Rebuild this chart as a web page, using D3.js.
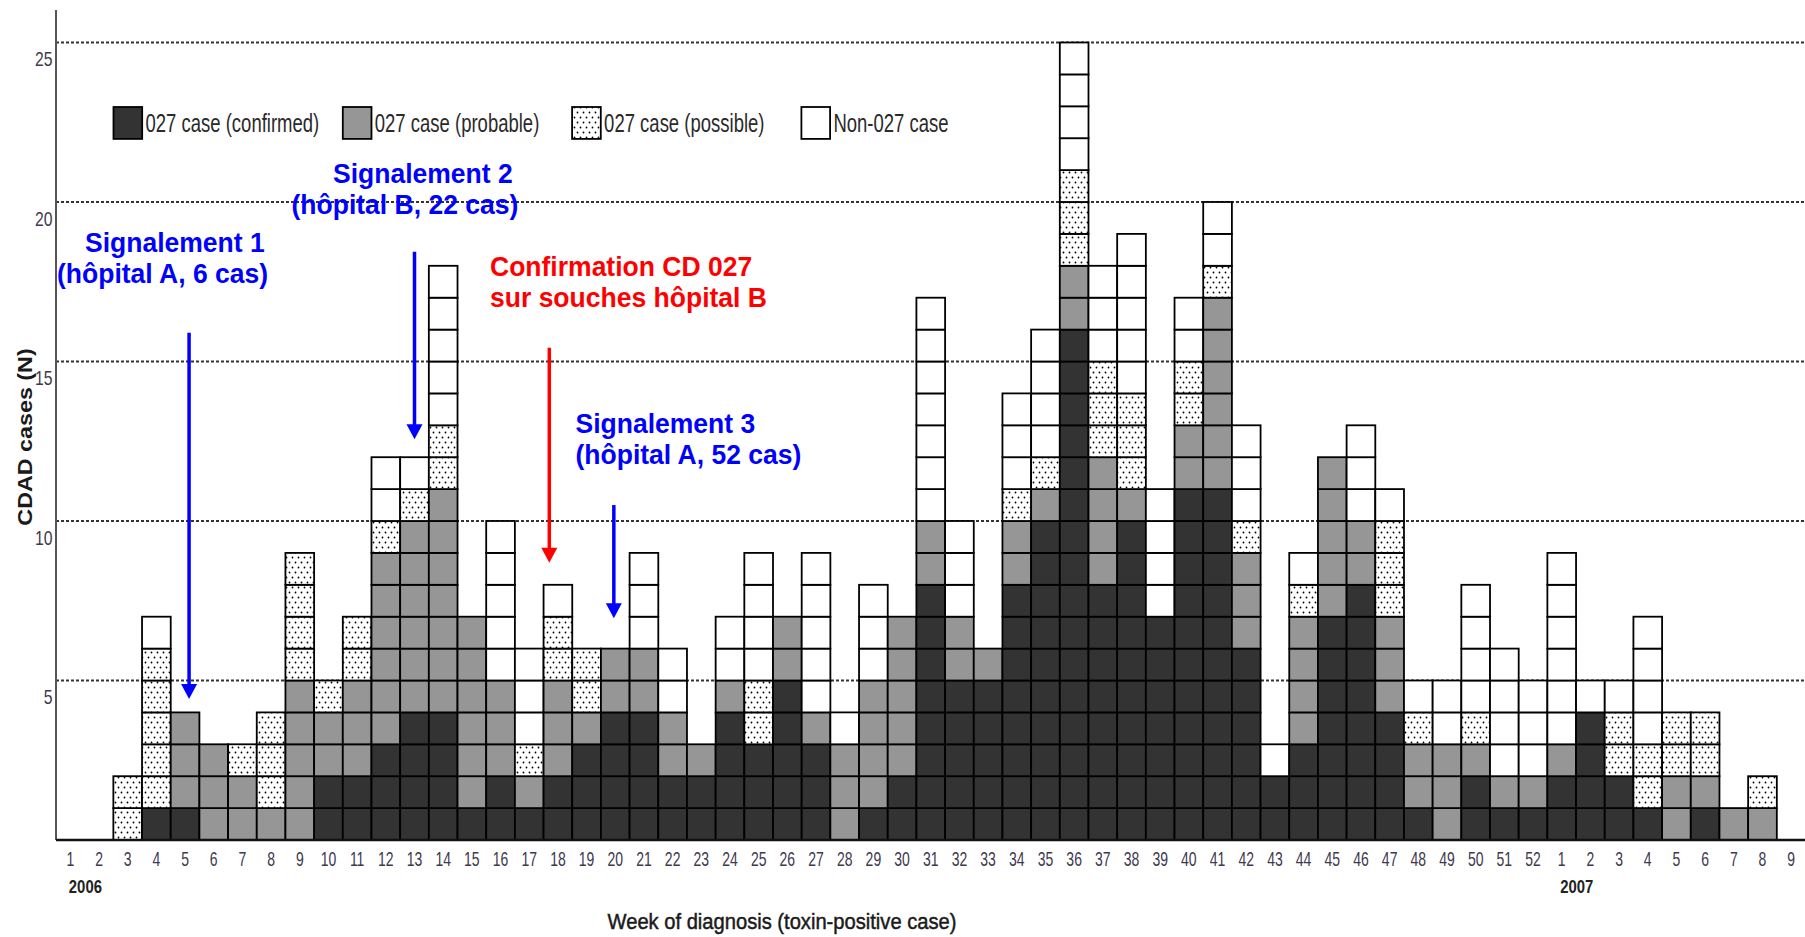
<!DOCTYPE html>
<html>
<head>
<meta charset="utf-8">
<script src="https://cdn.jsdelivr.net/npm/d3@7"></script>
<style>
  html, body { margin: 0; padding: 0; background: #fff; }
  svg { display: block; }
  text { font-family: "Liberation Sans", Arial, sans-serif; }
</style>
</head>
<body>
<svg id="chart" width="1805" height="937"></svg>
<script>
// Weekly CDAD cases, 2006 week 1 to 2007 week 9
const weekLabels = [...d3.range(1, 53), ...d3.range(1, 10)];
const yearLabels = [{ year: "2006", index: 0 }, { year: "2007", index: 52 }];

const confirmed = [0,0,0,1,1,0,0,0,0,2, 2,3,4,4,1,2,1,2,3,4, 4,2,2,4,3,5,3,0,1,2,
                   8,5,5,8,10,16,8,10,7,11, 11,6,2,3,7,8,4,1,0,2, 1,1,
                   2,4,2,1,0,1,0,0,0];
const probable  = [0,0,0,0,3,3,2,1,5,2, 3,6,6,7,6,3,1,3,1,2, 2,2,1,1,0,2,1,3,4,5,
                   2,2,1,2,1,2,4,1,0,2, 6,3,0,4,5,2,3,2,3,1, 1,1,
                   1,0,0,0,2,1,1,1,0];
const possible  = [0,0,2,5,0,0,1,3,4,1, 2,1,1,2,0,0,1,2,2,0, 0,0,0,0,2,0,0,0,0,0,
                   0,0,0,1,1,3,3,3,0,2, 1,1,0,1,0,0,3,1,0,1, 0,0,
                   0,0,2,2,2,2,0,1,0];
const nonCase   = [0,0,0,1,0,0,0,0,0,0, 0,2,1,5,0,5,3,1,0,0, 3,2,0,2,4,0,5,1,3,0,
                   7,3,0,3,4,4,3,5,4,2, 2,3,1,1,0,3,1,1,2,4, 4,3,
                   6,1,1,4,0,0,0,0,0];

const seriesNames = ["027 case (confirmed)", "027 case (probable)", "027 case (possible)", "Non-027 case"];
const seriesData = [confirmed, probable, possible, nonCase];
const yTicks = [5, 10, 15, 20, 25];

const svg = d3.select("#chart");
const W = 1805, H = 937;
const left = 56, right = 1805.5, baseY = 840, topY = 42.5;

const x = d3.scaleBand().domain(d3.range(weekLabels.length)).range([left, right]).padding(0);
const y = d3.scaleLinear().domain([0, 25]).range([baseY, topY]);
const fills = ["#333333", "#969696", "url(#dots)", "#ffffff"];

// dotted fill for "possible" cases
const defs = svg.append("defs");
const pat = defs.append("pattern").attr("id", "dots")
  .attr("patternUnits", "userSpaceOnUse").attr("width", 6).attr("height", 10);
pat.append("rect").attr("width", 6).attr("height", 10).attr("fill", "#fff");
pat.append("circle").attr("cx", 1.5).attr("cy", 2.5).attr("r", 0.9).attr("fill", "#000");
pat.append("circle").attr("cx", 4.5).attr("cy", 7.5).attr("r", 0.9).attr("fill", "#000");

// text helper with horizontal/vertical scale
function label(g, px, py, str, o = {}) {
  const t = g.append("text")
    .attr("transform", `translate(${px},${py}) scale(${o.sx || 1},${o.sy || 1})`)
    .attr("text-anchor", o.anchor || "start")
    .attr("font-size", o.size || 20)
    .attr("font-weight", o.weight || "normal")
    .attr("fill", o.fill || "#222")
    .text(str);
  if (o.stroke) t.attr("stroke", o.fill || "#222").attr("stroke-width", o.stroke);
  return t;
}

// horizontal dotted reference lines
svg.append("g").selectAll("line").data(yTicks).join("line")
  .attr("x1", left).attr("x2", W)
  .attr("y1", d => y(d)).attr("y2", d => y(d))
  .attr("stroke", "#333").attr("stroke-width", 2).attr("stroke-dasharray", "3,2");

// one square per case, stacked by category
const squares = [];
weekLabels.forEach((w, i) => {
  let level = 0;
  seriesData.forEach((arr, s) => {
    for (let k = 0; k < arr[i]; k++) {
      squares.push({ i, s, level });
      level++;
    }
  });
});
svg.append("g").selectAll("rect").data(squares).join("rect")
  .attr("x", d => x(d.i))
  .attr("y", d => y(d.level + 1))
  .attr("width", x.bandwidth())
  .attr("height", y(0) - y(1))
  .attr("fill", d => fills[d.s])
  .attr("stroke", "#000").attr("stroke-width", 1.8);

// axes lines
svg.append("line").attr("x1", left).attr("x2", left).attr("y1", 10).attr("y2", baseY)
  .attr("stroke", "#555").attr("stroke-width", 2);
svg.append("line").attr("x1", left).attr("x2", W).attr("y1", baseY).attr("y2", baseY)
  .attr("stroke", "#111").attr("stroke-width", 2.5);

// x axis: week numbers
const xAxis = svg.append("g").attr("transform", `translate(0,${baseY})`)
  .call(d3.axisBottom(x).tickSize(0).tickFormat(i => weekLabels[i]));
xAxis.select(".domain").remove();
xAxis.selectAll("text")
  .attr("y", 26.5).attr("dy", null)
  .attr("transform", "scale(0.70,1)")
  .attr("font-size", 20)
  .attr("font-family", "Liberation Sans, Arial, sans-serif")
  .attr("fill", "#41384f");

// y axis: labels sit in the middle of the n-th square
const yAxis = svg.append("g").attr("transform", `translate(${left},0)`)
  .call(d3.axisLeft(y).tickValues(yTicks.map(v => v - 0.5)).tickSize(0).tickFormat(d => d + 0.5));
yAxis.select(".domain").remove();
yAxis.selectAll("text")
  .attr("x", -4.7).attr("dy", 7.5)
  .attr("transform", "scale(0.75,1)")
  .attr("font-size", 21)
  .attr("font-family", "Liberation Sans, Arial, sans-serif")
  .attr("fill", "#41384f");

// year labels
yearLabels.forEach(d => {
  label(svg, x(d.index) + x.bandwidth() / 2 - 1.5, 893, d.year,
    { size: 18.6, weight: "bold", sx: 0.8, fill: "#222" });
});

// axis titles
label(svg, 782, 928.5, "Week of diagnosis (toxin-positive case)",
  { size: 21, sx: 0.96, sy: 1.04, anchor: "middle", fill: "#1a1a1a", stroke: 0.45 });
svg.append("text")
  .attr("transform", `translate(32,437) rotate(-90) scale(1.11,1)`)
  .attr("text-anchor", "middle")
  .attr("font-size", 21).attr("font-weight", "bold").attr("fill", "#1a1a1a")
  .text("CDAD cases (N)");

// legend
const sqW = x.bandwidth(), sqH = y(0) - y(1);
const legend = svg.append("g");
seriesNames.forEach((name, s) => {
  const lx = 113.5 + s * 229.3;
  legend.append("rect").attr("x", lx).attr("y", 107).attr("width", sqW).attr("height", sqH)
    .attr("fill", fills[s]).attr("stroke", "#000").attr("stroke-width", 1.8);
  label(legend, lx + 32, 132.3, name, { size: 25, sx: 0.74, fill: "#2a2a2a" });
});

// alert arrows and notes
function arrow(px, y1, y2, color) {
  svg.append("line").attr("x1", px).attr("x2", px).attr("y1", y1).attr("y2", y2 - 13)
    .attr("stroke", color).attr("stroke-width", 3.5);
  svg.append("path")
    .attr("d", `M${px - 8},${y2 - 15} L${px + 8},${y2 - 15} L${px},${y2} Z`)
    .attr("fill", color);
}
const blue = "#0000ff", red = "#ff0000";
arrow(x(4) + 0.64 * sqW, y(15.9), y(4.42), blue);
arrow(x(12) + 0.5 * sqW, y(18.44), y(12.56), blue);
arrow(x(17) + 0.2 * sqW, y(15.43), y(8.69), red);
arrow(x(19) + 0.45 * sqW, y(10.5), y(6.95), blue);

const noteOpts = c => ({ size: 26, weight: "bold", fill: c, sx: 1.02, sy: 1.05 });
label(svg, 85, 252, "Signalement 1", noteOpts(blue));
label(svg, 57, 283, "(hôpital A, 6 cas)", noteOpts(blue));
label(svg, 333, 183, "Signalement 2", noteOpts(blue));
label(svg, 291.5, 214, "(hôpital B, 22 cas)", noteOpts(blue));
label(svg, 490, 276, "Confirmation CD 027", noteOpts(red));
label(svg, 490, 307, "sur souches hôpital B", noteOpts(red));
label(svg, 575.5, 433, "Signalement 3", noteOpts(blue));
label(svg, 575.5, 464, "(hôpital A, 52 cas)", noteOpts(blue));
</script>
</body>
</html>
